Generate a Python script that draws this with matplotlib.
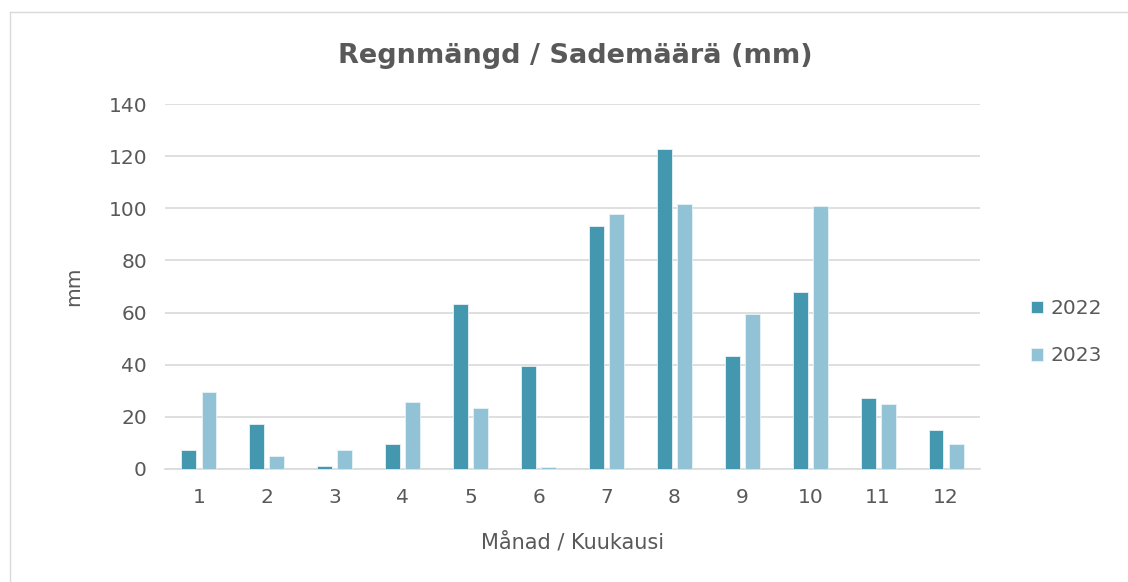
import matplotlib
matplotlib.use("Agg")
import matplotlib.pyplot as plt
import numpy as np
from matplotlib.lines import Line2D

months = ["1", "2", "3", "4", "5", "6", "7", "8", "9", "10", "11", "12"]
rain_2022 = [7.2, 17.3, 1.0, 9.6, 63.2, 39.6, 93.3, 122.7, 43.2, 67.8, 27.2, 15.0]
rain_2023 = [29.5, 4.8, 7.2, 25.6, 23.3, 0.9, 98.0, 101.8, 59.6, 101.0, 24.9, 9.5]
series_labels = ["2022", "2023"]
colors = ["#4397AF", "#92C2D5"]

W, H = 1128, 582
fig = plt.figure(figsize=(W / 100, H / 100), dpi=100)
plt.rcParams['font.family'] = ['DejaVu Sans']
txt = "#595959"

# chart frame (light)
fig.add_artist(Line2D([10 / W, 10 / W], [0, 1 - 12 / H], color="#D9D9D9", lw=1, transform=fig.transFigure))
fig.add_artist(Line2D([10 / W, 1], [1 - 12 / H, 1 - 12 / H], color="#D9D9D9", lw=1, transform=fig.transFigure))

ax = fig.add_axes([165 / W, 1 - 469 / H, (980 - 165) / W, (469 - 104) / H])
x = np.arange(1, len(months) + 1)
bw = 0.22
off = 0.148
ax.bar(x - off, rain_2022, bw, color=colors[0], edgecolor="#E8F2F6", linewidth=0.6, label=series_labels[0], zorder=3)
ax.bar(x + off, rain_2023, bw, color=colors[1], edgecolor="#E8F2F6", linewidth=0.6, label=series_labels[1], zorder=3)

ax.set_xlim(0.5, 12.5)
ax.set_ylim(0, 140)
ax.set_yticks(np.arange(0, 141, 20))
ax.set_xticks(x)
ax.set_xticklabels(months)
ax.yaxis.grid(True, color="#D9D9D9", lw=1.2, zorder=0)
ax.set_axisbelow(True)
for s in ["top", "right", "left"]:
    ax.spines[s].set_visible(False)
ax.spines["bottom"].set_color("#D9D9D9")
ax.spines["bottom"].set_linewidth(1.2)
ax.tick_params(axis="both", length=0, labelsize=14.5, labelcolor=txt)
ax.tick_params(axis="y", pad=13)
ax.tick_params(axis="x", pad=14)

ax.set_ylabel("mm", fontsize=14.5, color=txt, labelpad=18)
ax.set_xlabel("Månad / Kuukausi", fontsize=15, color=txt, labelpad=18)
fig.text(575 / W, 1 - 56 / H, "Regnmängd / Sademäärä (mm)", ha="center", va="center",
         fontsize=19.5, fontweight="bold", color=txt)

leg = ax.legend(loc="center left", bbox_to_anchor=(1.04, 0.375), frameon=False, fontsize=14.5,
                handlelength=0.6, handleheight=0.6, handletextpad=0.4, labelspacing=1.4)
for t in leg.get_texts():
    t.set_color(txt)

fig.savefig("out.png", dpi=100)
